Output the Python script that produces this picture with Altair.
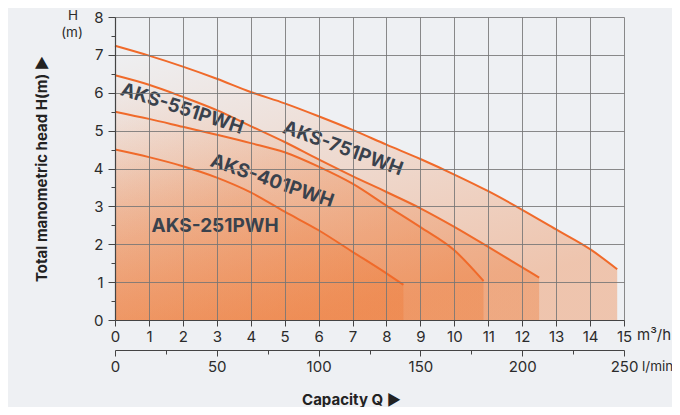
import altair as alt
import pandas as pd

# ---- data ----
models = ["AKS-751PWH", "AKS-551PWH", "AKS-401PWH", "AKS-251PWH"]
q751 = [0, 1, 2, 3, 4, 5, 6, 7, 8, 9, 10, 11, 12, 13, 14, 14.8]
h751 = [7.24, 6.98, 6.69, 6.37, 6.02, 5.72, 5.38, 5.02, 4.63, 4.25, 3.84, 3.40, 2.91, 2.39, 1.87, 1.34]
q551 = [0, 1, 2, 3, 4, 5, 6, 7, 8, 9, 10, 11, 12, 12.5]
h551 = [6.46, 6.21, 5.89, 5.54, 5.12, 4.70, 4.24, 3.80, 3.38, 2.95, 2.46, 1.93, 1.39, 1.12]
q401 = [0, 1, 2, 3, 4, 5, 6, 7, 8, 9, 10, 10.86]
h401 = [5.50, 5.31, 5.10, 4.89, 4.67, 4.43, 4.05, 3.60, 3.02, 2.45, 1.84, 1.03]
q251 = [0, 1, 2, 3, 4, 5, 6, 7, 8, 8.5]
h251 = [4.50, 4.30, 4.06, 3.76, 3.37, 2.86, 2.37, 1.80, 1.23, 0.93]

label_q = [6.72, 1.98, 4.63, 2.95]
label_h = [4.53, 5.58, 3.67, 2.48]
label_angle = [20, 18, 19, 0]

x_ticks = list(range(0, 16))
y_ticks = [i * 0.5 for i in range(17)]
lpm_ticks = list(range(0, 251, 25))
lpm_domain = [0, 250]

series = {"AKS-751PWH": (q751, h751), "AKS-551PWH": (q551, h551),
          "AKS-401PWH": (q401, h401), "AKS-251PWH": (q251, h251)}

rows = []
for m in models:
    qs, hs = series[m]
    for q, h in zip(qs, hs):
        rows.append({"model": m, "q": q, "h": h})
curves = pd.DataFrame(rows)
labels = pd.DataFrame({"model": models, "q": label_q, "h": label_h, "angle": label_angle})

FONT = "Inter"
ORANGE = "#f06a2a"
TXT = "#2b2b2b"

xscale = alt.Scale(domain=[0, 15], nice=False)
yscale = alt.Scale(domain=[0, 8], nice=False)

xaxis = alt.Axis(values=x_ticks, grid=True, gridColor="#767676", gridOpacity=0.85, gridWidth=1,
                 tickColor="#444", tickSize=6, domainColor="#444", domainWidth=1.2,
                 labelFont=FONT, labelFontSize=15, labelColor=TXT, labelPadding=3,
                 title=None, zindex=1, labelFlush=False)
yaxis = alt.Axis(values=y_ticks, grid=True, gridColor="#767676",
                 gridOpacity={"condition": {"test": "datum.value % 1 != 0", "value": 0}, "value": 0.85},
                 tickSize={"condition": {"test": "datum.value % 1 != 0", "value": 4}, "value": 7},
                 labelExpr="datum.value % 1 ? '' : format(datum.value, 'd')",
                 tickColor="#444", domainColor="#444", domainWidth=1.2,
                 labelFont=FONT, labelFontSize=15, labelColor=TXT, labelPadding=5,
                 title="Total manometric head H(m)  \u25ba", titleFont=FONT, titleFontSize=15,
                 titleFontWeight="bold", titleColor="#222", titlePadding=44,
                 zindex=1, labelFlush=False)

X = alt.X("q:Q", scale=xscale, axis=xaxis)
Y = alt.Y("h:Q", scale=yscale, axis=yaxis)


def grad():
    return alt.Gradient(
        gradient="linear", x1=0, y1=0, x2=0.5, y2=1,
        stops=[alt.GradientStop(color="rgba(239,122,55,0.0)", offset=0),
               alt.GradientStop(color="rgba(239,122,55,0.37)", offset=1)])


base = alt.Chart(curves)
layers = []
for m in models:
    layers.append(base.transform_filter(alt.datum.model == m)
                  .mark_area(color=grad(), interpolate="monotone")
                  .encode(x=X, y=Y))
for m in models:
    layers.append(base.transform_filter(alt.datum.model == m)
                  .mark_line(color=ORANGE, strokeWidth=2, interpolate="monotone")
                  .encode(x=X, y=Y))

lab = alt.Chart(labels)
for i, m in enumerate(models):
    layers.append(lab.transform_filter(alt.datum.model == m)
                  .mark_text(font=FONT, fontSize=19, fontWeight="bold", color="#3a424d",
                             angle=label_angle[i], align="center", baseline="middle")
                  .encode(x=X, y=Y, text="model:N"))

units = pd.DataFrame({"q": [15], "h": [0]})
layers.append(alt.Chart(units).mark_text(text="m\u00b3/h", font=FONT, fontSize=15, color=TXT,
                                         align="left", baseline="middle", dx=13, dy=15)
              .encode(x=X, y=Y))
layers.append(alt.Chart(units).mark_text(text="l/min", font=FONT, fontSize=13.5, color=TXT,
                                         align="left", baseline="middle", dx=18, dy=47)
              .encode(x=X, y=Y))
hm = pd.DataFrame({"q": [0], "h": [8]})
layers.append(alt.Chart(hm).mark_text(text="H", font=FONT, fontSize=13.5, color=TXT,
                                      align="center", baseline="middle", dx=-42, dy=-1)
              .encode(x=X, y=Y))
layers.append(alt.Chart(hm).mark_text(text="(m)", font=FONT, fontSize=13.5, color=TXT,
                                      align="center", baseline="middle", dx=-43, dy=16)
              .encode(x=X, y=Y))

main = alt.layer(*layers)

lpm = pd.DataFrame({"lpm": lpm_domain})
lpm_axis = alt.Axis(orient="bottom", offset=30, values=lpm_ticks, grid=False,
                    tickSize={"condition": {"test": "datum.value % 50 != 0", "value": 4}, "value": 6},
                    labelExpr="datum.value % 50 ? '' : datum.label",
                    tickColor="#444", domainColor="#444", domainWidth=1.2,
                    labelFont=FONT, labelFontSize=15, labelColor=TXT, labelPadding=3,
                    title="Capacity Q  \u25ba", titleFont=FONT, titleFontSize=15,
                    titleFontWeight="bold", titleColor="#222", titlePadding=18, titleX=236,
                    labelFlush=False)
lpm_layer = alt.Chart(lpm).mark_point(opacity=0).encode(
    x=alt.X("lpm:Q", scale=alt.Scale(domain=lpm_domain, nice=False), axis=lpm_axis))

chart = alt.layer(main, lpm_layer).resolve_scale(x="independent").properties(
    width=509, height=303, background="#eef0f3",
    padding={"left": 107, "top": 9, "right": 48, "bottom": 87},
    autosize=alt.AutoSizeParams(type="none"),
).configure_view(stroke=None)

chart.save("out.html", embed_options={"renderer": "svg", "actions": False})
